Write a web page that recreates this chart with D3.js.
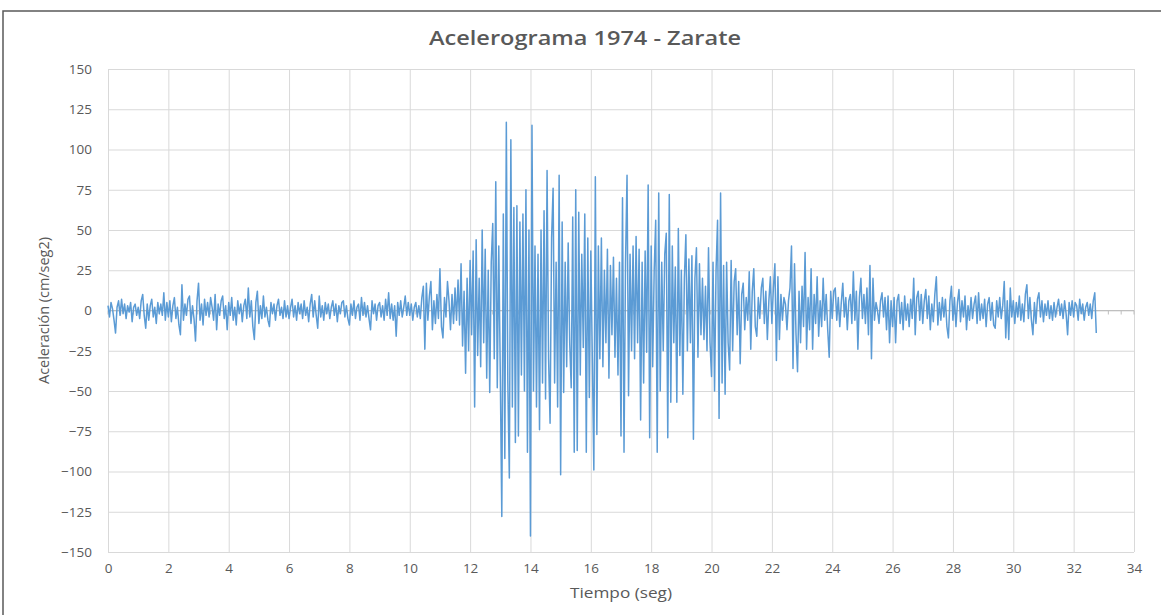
<!DOCTYPE html>
<html>
<head>
<meta charset="utf-8">
<script src="https://cdn.jsdelivr.net/npm/d3@7"></script>
<style>
  body { margin: 0; background: #fff; }
  text { font-family: "Open Sans", "Liberation Sans", sans-serif; fill: #595959; }
</style>
</head>
<body>
<svg id="chart" width="1161" height="615"></svg>
<script>
// paso de tiempo entre muestras (seg)
const dt = 0.05;

// 0 - 10 seg
const aceleracionInicio = [
  3, -4, 5, 1, -6, -14, 2, 6, -3, 7, -2, 4, -5, 3, -1, 5, -7, 2, 4, -3,
  2, -5, 6, 10, -3, -11, 4, -6, 3, 7, -4, 2, -8, 5, -2, 4, -3, 11, -6, 5,
  -4, 6, -7, 3, 8, -5, 2, -9, -15, 16, -6, 4, -3, 7, 9, -8, 3, -5, -19, 6,
  17, -6, 4, -9, 7, -3, 5, -4, 8, 2, -6, 10, -12, 4, -3, 6, 9, -5, 3, -12,
  5, -3, 8, -6, 2, -9, 6, -2, 4, -7, 3, 7, -5, 14, -4, 6, -10, -18, 5, 12,
  -8, 3, -5, 9, -4, 2, -6, -10, 5, -2, 4, -6, 3, 7, -3, 2, -5, 6, -4, 3,
  -5, 2, 7, -4, 3, -6, 5, -2, 4, -5, 6, -3, 2, -7, 4, 10, -4, 6, -3, -11,
  9, -4, 3, -6, 5, -2, 4, -5, 2, 6, -3, 4, -7, 3, -2, 5, 6, -4, 3, -5,
  -9, 4, -3, 6, -5, 2, 4, -6, 8, -3, 5, -4, 3, -5, -12, 6, -2, 4, -6, 3,
  5, -4, 3, -6, 7, -3, 11, -5, 4, -6, 3, -16, 5, -3, 6, -4, 2, 9, -3, 5
];

// 10 - 21 seg (fase fuerte)
const aceleracionFuerte = [
  -3, 4, -6, 2, 5, -4, 3, -5, 8, 15, -24, 17, -6, 9, 18, -12, 6, -8, 10, -5,
  26, -10, -17, 8, -4, 18, 6, -12, 10, -8, 14, -6, 19, -9, 29, -22, 12, -39, 20, -25,
  31, -15, 37, -60, 44, -28, 20, -35, 50, -20, 38, -42, 25, -51, 30, 54, -30, 80, -48, 40,
  -40, -128, 60, -92, 117, -45, -104, 106, -60, 64, -82, 65, -78, 55, -40, 60, -50, 75, -88, 50,
  -140, 115, -50, 40, -60, 35, -74, 50, -45, 62, -55, 87, -30, -70, 45, 76, -45, 30, -60, 84,
  -102, 55, -51, 30, -35, 42, -20, -48, 58, -88, 75, -87, 61, -40, 35, -23, 60, -88, 45, -54,
  37, -30, -99, 83, -77, 40, -30, 45, -35, 25, -20, 38, -42, 28, -15, 33, -29, 20, -40, 30,
  -78, 70, -88, 30, 84, -53, 35, -25, 40, -30, 46, -20, 38, -68, 30, -45, 37, -26, 78, -79,
  40, -35, 25, 56, -88, 73, -50, 30, -25, 35, 48, -79, 72, -57, 40, -20, 27, -57, 51, -28,
  25, -52, 20, 47, -25, 32, -20, 34, -80, 20, 39, -29, 29, -15, 20, -18, 15, -25, 39, -20,
  -41, 30, -50, 25, 56, -67, 73, -45, 28, -52, 30, -20, -37, 31, -25, 18, 26, -15, 18, -33
];

// 21 - 32.75 seg
const aceleracionFinal = [
  10, 17, -12, 8, -6, 24, -24, 12, 26, -10, -16, 8, -5, 14, 20, -8, 12, -18, 6, 21,
  -8, 14, 29, -31, 21, -18, 10, -6, 8, 4, -12, 6, 14, 40, -36, 29, -15, -38, 12, -20,
  15, -10, 36, -24, 8, -12, 26, -24, 10, -8, 21, -16, 6, -10, 20, -6, 10, -12, -29, 12,
  -5, 12, 14, -6, 8, -10, 5, 17, -4, 8, -12, 6, 10, -8, 24, -6, 12, -24, 8, 20,
  -5, 10, -8, 14, -15, 28, -30, 20, -6, 5, 0, -8, 6, 11, -4, 8, -12, 9, -20, 6,
  -10, 8, -20, 6, 10, -8, 5, -12, 9, -6, 4, -10, 7, -5, 20, -15, 8, 12, -6, 10,
  -8, 6, 13, -5, 9, -12, 4, -7, 10, 21, -9, 5, -6, 8, -4, 7, -10, -17, 6, 15,
  -6, 8, -10, 5, 13, -7, 6, -4, 9, -12, 3, -6, 8, -5, 4, 9, -8, 11, -6, 4,
  -5, 7, -10, 4, 8, -6, 5, -9, -11, 6, -4, 8, -5, 3, 18, -17, 6, -18, 14, -4,
  6, -8, 5, -4, 9, -6, 4, -7, 10, 16, -5, 8, -6, -15, 5, -8, 7, 11, -4, 6,
  -7, 4, -3, 6, -5, 3, -6, 5, -4, 2, 7, -3, 4, -5, 6, -2, -15, 5, -3, 6,
  -4, 5, 3, -6, 7, -2, 4, -6, 2, 5, -3, 4, -5, 6, 11, -14
];

const yTicks = [-150, -125, -100, -75, -50, -25, 0, 25, 50, 75, 100, 125, 150];
const xTicks = [0, 2, 4, 6, 8, 10, 12, 14, 16, 18, 20, 22, 24, 26, 28, 30, 32, 34];

const titulo = "Acelerograma 1974 - Zarate";
const tituloX = "Tiempo (seg)";
const tituloY = "Aceleración (cm/seg2)";

function drawChart() {
  const svg = d3.select("#chart");

  const plot = { left: 108, right: 1134, top: 69, bottom: 552 };

  const x = d3.scaleLinear().domain([0, 34]).range([plot.left, plot.right]);
  const y = d3.scaleLinear().domain([-150, 150]).range([plot.bottom, plot.top]);

  const aceleracion = aceleracionInicio.concat(aceleracionFuerte, aceleracionFinal);
  const datos = aceleracion.map((a, i) => [i * dt, a]);

  // chart border
  svg.append("rect")
    .attr("x", 3)
    .attr("y", 11)
    .attr("width", 1200)
    .attr("height", 700)
    .attr("fill", "none")
    .attr("stroke", "#595959")
    .style("stroke-width", 1.5);

  // horizontal gridlines + y labels
  const yAxis = d3.axisLeft(y).tickValues(yTicks).tickSize(-(plot.right - plot.left)).tickPadding(16);
  const gy = svg.append("g")
    .attr("transform", `translate(${plot.left},0)`)
    .call(yAxis);
  gy.select(".domain").remove();
  gy.selectAll("line").attr("stroke", "#d9d9d9");
  gy.selectAll("text").style("font-size", "13.5px");

  // vertical gridlines + x labels
  const xAxis = d3.axisBottom(x).tickValues(xTicks).tickSize(-(plot.bottom - plot.top)).tickPadding(11);
  const gx = svg.append("g")
    .attr("transform", `translate(0,${plot.bottom})`)
    .call(xAxis);
  gx.select(".domain").remove();
  gx.selectAll("line").attr("stroke", "#d9d9d9");
  gx.selectAll("text").style("font-size", "13.5px");

  // eje horizontal en cero con marcas pequeñas
  svg.append("line")
    .attr("x1", plot.left)
    .attr("x2", plot.right)
    .attr("y1", y(0))
    .attr("y2", y(0))
    .attr("stroke", "#bfbfbf");
  svg.selectAll(".marca")
    .data(d3.range(0, 81).map(i => i * 34 / 80))
    .enter()
    .append("line")
    .attr("class", "marca")
    .attr("x1", d => x(d))
    .attr("x2", d => x(d))
    .attr("y1", y(0))
    .attr("y2", y(0) + 4)
    .attr("stroke", "#bfbfbf");

  // señal
  const line = d3.line()
    .x(d => x(d[0]))
    .y(d => y(d[1]));
  svg.append("path")
    .datum(datos)
    .attr("d", line)
    .attr("fill", "none")
    .attr("stroke", "#5b9bd5")
    .style("stroke-width", 1.5)
    .style("stroke-linejoin", "round");

  // titles
  svg.append("text")
    .attr("x", 585)
    .attr("y", 45)
    .attr("text-anchor", "middle")
    .attr("textLength", 312)
    .attr("lengthAdjust", "spacingAndGlyphs")
    .style("font-size", "20px")
    .style("font-weight", "600")
    .text(titulo);

  svg.append("text")
    .attr("x", (plot.left + plot.right) / 2)
    .attr("y", 598)
    .attr("text-anchor", "middle")
    .attr("textLength", 102)
    .attr("lengthAdjust", "spacingAndGlyphs")
    .style("font-size", "15px")
    .text(tituloX);

  svg.append("text")
    .attr("transform", `translate(49,${(plot.top + plot.bottom) / 2}) rotate(-90)`)
    .attr("text-anchor", "middle")
    .attr("textLength", 147)
    .attr("lengthAdjust", "spacingAndGlyphs")
    .style("font-size", "14.5px")
    .text(tituloY);
}

drawChart();
</script>
</body>
</html>
